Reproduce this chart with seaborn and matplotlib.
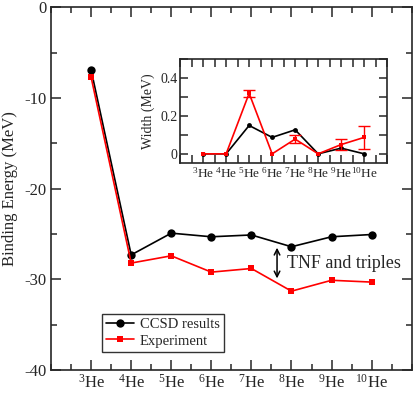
import numpy as np
import pandas as pd
import matplotlib
matplotlib.use("Agg")
import matplotlib.pyplot as plt
import seaborn as sns
from matplotlib.ticker import MultipleLocator

# mass numbers of the helium isotopes
mass = [3, 4, 5, 6, 7, 8, 9, 10]
labels = [r'$^{%d}$He' % a for a in mass]

# binding energies (MeV)
ccsd_energy = [-6.9, -27.3, -24.9, -25.3, -25.1, -26.4, -25.3, -25.05]
exp_energy = [-7.7, -28.2, -27.4, -29.2, -28.8, -31.3, -30.1, -30.3]

# widths (MeV)
ccsd_width = [0.0, 0.0, 0.15, 0.087, 0.127, 0.0, 0.03, 0.0]
exp_width = [0.0, 0.0, 0.32, 0.0, 0.078, 0.0, 0.049, 0.087]
exp_width_err = [0.0, 0.0, 0.02, 0.0, 0.02, 0.0, 0.03, 0.06]

df = pd.DataFrame({'A': mass * 2,
                   'E': ccsd_energy + exp_energy,
                   'kind': ['CCSD results'] * 8 + ['Experiment'] * 8})

sns.set_style("ticks")
plt.rcParams['font.family'] = ['Liberation Serif', 'DejaVu Serif']
plt.rcParams['mathtext.fontset'] = 'custom'
plt.rcParams['mathtext.rm'] = 'Liberation Serif'
plt.rcParams['mathtext.it'] = 'Liberation Serif:italic'
plt.rcParams['axes.unicode_minus'] = False

fig = plt.figure(figsize=(4.15, 3.93), dpi=100)
ax = fig.add_axes([0.123, 0.0585, 0.869, 0.9225])

sns.lineplot(data=df[df.kind == 'CCSD results'], x='A', y='E', ax=ax, color='black',
             marker='o', markersize=6, markeredgewidth=0, lw=1.2, label='CCSD results')
sns.lineplot(data=df[df.kind == 'Experiment'], x='A', y='E', ax=ax, color='red',
             marker='s', markersize=5, markeredgewidth=0, lw=1.2, label='Experiment')

ax.set_xlim(2, 11)
ax.set_ylim(-40, 0)
ax.set_xticks(mass)
ax.set_xticklabels(labels, fontsize=11)
ax.xaxis.set_minor_locator(MultipleLocator(0.5))
ax.yaxis.set_major_locator(MultipleLocator(10))
ax.yaxis.set_minor_locator(MultipleLocator(5))
ax.tick_params(which='both', direction='in', top=True, right=True, width=1.1)
ax.tick_params(which='major', length=7, labelsize=12)
ax.tick_params(axis='x', which='major', pad=3)
ax.tick_params(which='minor', length=4)
ax.set_xlabel('')
ax.set_ylabel('Binding Energy (MeV)', fontsize=12)
for s in ax.spines.values():
    s.set_linewidth(1.2)

ax.annotate('', xy=(7.64, -30.2), xytext=(7.64, -26.2),
            arrowprops=dict(arrowstyle='<->', color='black', lw=1.1))
ax.text(7.88, -28.2, 'TNF and triples', fontsize=13, va='center')

leg = ax.legend(loc='lower left', bbox_to_anchor=(0.141, 0.05), borderaxespad=0,
                fontsize=10.5, frameon=True, fancybox=False, edgecolor='black',
                handlelength=1.9, borderpad=0.3, labelspacing=0.2, handletextpad=0.4)
leg.get_frame().set_linewidth(1.0)

# inset with widths
ins = fig.add_axes([0.434, 0.5845, 0.499, 0.2646])
sns.lineplot(x=mass, y=ccsd_width, ax=ins, color='black', marker='o',
             markersize=3.5, markeredgewidth=0, lw=1.2)
sns.lineplot(x=mass, y=exp_width, ax=ins, color='red', marker='s',
             markersize=3.5, markeredgewidth=0, lw=1.2)
mask = np.array(exp_width_err) > 0
ins.errorbar(np.array(mass)[mask], np.array(exp_width)[mask],
             yerr=np.array(exp_width_err)[mask], fmt='none', ecolor='red',
             elinewidth=1.0, capsize=4, capthick=1.0)
ins.set_xlim(2, 11)
ins.set_ylim(-0.05, 0.5)
ins.set_xticks(mass)
ins.set_xticklabels(labels, fontsize=9.5)
ins.xaxis.set_minor_locator(MultipleLocator(0.5))
ins.set_yticks([0, 0.2, 0.4])
ins.set_yticklabels(['0', '0.2', '0.4'])
ins.yaxis.set_minor_locator(MultipleLocator(0.1))
ins.tick_params(which='both', direction='in', top=True, right=True, width=1.1)
ins.tick_params(which='major', length=6, labelsize=10, pad=2)
ins.tick_params(axis='x', which='major', labelsize=9.5)
ins.tick_params(which='minor', length=6)
ins.set_ylabel('Width (MeV)', fontsize=10)
for s in ins.spines.values():
    s.set_linewidth(1.2)

fig.savefig('out.png', dpi=100)
